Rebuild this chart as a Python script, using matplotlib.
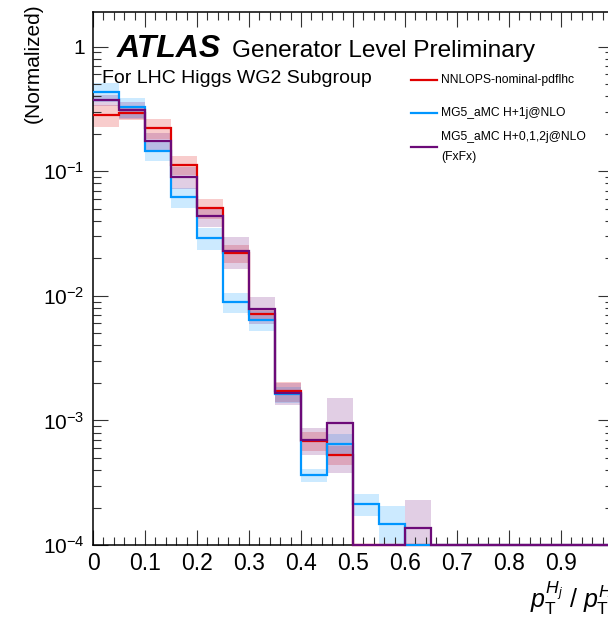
import numpy as np
import matplotlib
matplotlib.use("Agg")
import matplotlib.pyplot as plt
from matplotlib.ticker import FixedLocator, MultipleLocator, LogLocator, NullFormatter

plt.rcParams['font.family'] = ['Liberation Sans', 'DejaVu Sans']
plt.rcParams['mathtext.fontset'] = 'custom'
plt.rcParams['mathtext.rm'] = 'Liberation Sans'
plt.rcParams['mathtext.it'] = 'Liberation Sans:italic'
plt.rcParams['mathtext.bf'] = 'Liberation Sans:bold'

# binning: 20 bins of 0.05 between 0 and 1
edges = np.linspace(0, 1, 21)

# normalised distributions
nnlops = [0.284, 0.294, 0.222, 0.113, 0.0506, 0.0220, 0.00710, 0.00171, 0.00069, 0.00053,
          0, 0, 0, 0, 0, 0, 0, 0, 0, 0]
mg5_1j = [0.435, 0.329, 0.146, 0.0617, 0.0294, 0.00891, 0.00639, 0.00162, 0.000362, 0.00065,
          0.000214, 0.000147, 0, 0, 0, 0, 0, 0, 0, 0]
fxfx = [0.374, 0.311, 0.175, 0.0899, 0.0439, 0.0230, 0.00789, 0.00167, 0.00070, 0.000953,
        0, 0, 0.000136, 0, 0, 0, 0, 0, 0, 0]

# relative uncertainties (band half widths)
nnlops_err = [0.2, 0.12, 0.18, 0.18, 0.18, 0.17, 0.1, 0.18, 0.18, 0.17,
              0, 0, 0, 0, 0, 0, 0, 0, 0, 0]
mg5_1j_err = [0.18, 0.18, 0.17, 0.18, 0.2, 0.18, 0.18, 0.15, 0.12, 0.2,
              0.2, 0.4, 0, 0, 0, 0, 0, 0, 0, 0]
fxfx_err = [0.1, 0.15, 0.15, 0.2, 0.18, 0.28, 0.25, 0.2, 0.25, 0.6,
            0, 0, 0.7, 0, 0, 0, 0, 0, 0, 0]

labels = ["NNLOPS-nominal-pdflhc", "MG5_aMC H+1j@NLO", "MG5_aMC H+0,1,2j@NLO\n(FxFx)"]
colors = ["#e00000", "#0096ff", "#6c0a78"]

xtick_vals = [0, 0.1, 0.2, 0.3, 0.4, 0.5, 0.6, 0.7, 0.8, 0.9, 1.0]
xtick_labels = ["0", "0.1", "0.2", "0.3", "0.4", "0.5", "0.6", "0.7", "0.8", "0.9", "1"]
ytick_vals = [1e-4, 1e-3, 1e-2, 1e-1, 1]
ytick_labels = [r"$10^{-4}$", r"$10^{-3}$", r"$10^{-2}$", r"$10^{-1}$", "1"]

ymin, ymax = 1e-4, 1.9

fig = plt.figure(figsize=(6.08, 6.23), dpi=100)
ax = fig.add_axes([93 / 608, 78 / 623, 520 / 608, 533 / 623])

series = [(nnlops, nnlops_err), (mg5_1j, mg5_1j_err), (fxfx, fxfx_err)]

# uncertainty bands
width = np.diff(edges)
for (vals, err), c in zip(series, colors):
    vals = np.array(vals)
    err = np.array(err)
    m = (vals > 0) & (err > 0)
    lo = vals * (1 - err)
    hi = vals * (1 + err)
    ax.bar(edges[:-1][m], (hi - lo)[m], bottom=lo[m], width=width[m], align='edge',
           color=c, alpha=0.2, linewidth=0)

# histogram lines; empty bins drawn at the bottom of the frame
for (vals, err), c in zip(series, colors):
    vals = np.array(vals)
    shown = np.where(vals > 0, vals, ymin)
    ax.stairs(shown, edges, baseline=None, color=c, linewidth=1.6, clip_on=False, zorder=3)

ax.set_yscale('log')
ax.set_xlim(0, 1)
ax.set_ylim(ymin, ymax)

ax.xaxis.set_major_locator(FixedLocator(xtick_vals))
ax.set_xticklabels(xtick_labels)
ax.xaxis.set_minor_locator(MultipleLocator(0.02))
ax.yaxis.set_major_locator(FixedLocator(ytick_vals))
ax.set_yticklabels(ytick_labels)
ax.yaxis.set_minor_locator(LogLocator(base=10, subs=np.arange(2, 10)))
ax.yaxis.set_minor_formatter(NullFormatter())

ax.tick_params(which='both', direction='in', top=True, right=True,
               width=0.8, color='#333333')
ax.tick_params(axis='x', labelsize=16.5, pad=5)
ax.tick_params(axis='y', labelsize=15, pad=6)
ax.tick_params(which='major', length=11)
ax.tick_params(which='minor', length=5.5)
for s in ax.spines.values():
    s.set_linewidth(1.1)

# labels
ax.text(1.0, -0.118, r"$p_{\mathrm{T}}^{H_j}$ / $p_{\mathrm{T}}^{H}$", transform=ax.transAxes,
        ha='right', va='baseline', fontsize=18)
fig.text(33 / 608, 1 - 3 / 623, "(Normalized)", rotation=90, ha='center', va='top', fontsize=15)

# ATLAS label
ax.text(0.046, 0.9156, "ATLAS", transform=ax.transAxes, fontsize=23, fontweight='bold',
        fontstyle='italic', va='baseline')
ax.text(0.267, 0.9156, "Generator Level Preliminary", transform=ax.transAxes, fontsize=17.6,
        va='baseline')
ax.text(0.0173, 0.866, "For LHC Higgs WG2 Subgroup", transform=ax.transAxes, fontsize=14,
        va='baseline')

# legend drawn by hand
leg_y = [0.872, 0.8105, 0.7467]
for lab, c, y in zip(labels, colors, leg_y):
    ax.plot([0.611, 0.661], [y, y], transform=ax.transAxes, color=c, linewidth=1.6)
    ax.text(0.669, y, lab, transform=ax.transAxes, fontsize=8.7, va='center', linespacing=1.8)

fig.savefig("out.png", dpi=100)
